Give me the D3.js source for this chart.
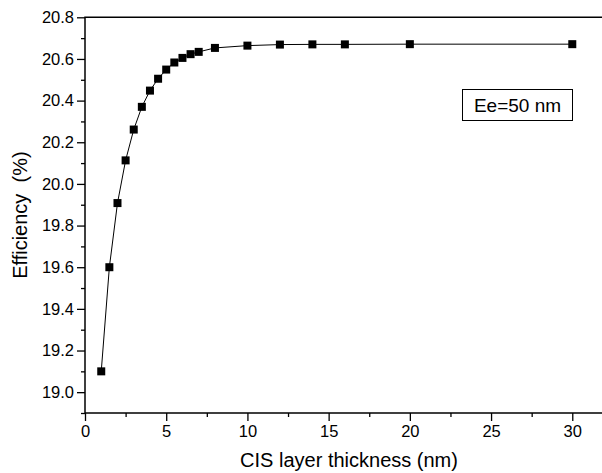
<!DOCTYPE html>
<html>
<head>
<meta charset="utf-8">
<script src="https://cdnjs.cloudflare.com/ajax/libs/d3/7.8.5/d3.min.js"></script>
<style>
	body { margin: 0; background: #fff; }
	svg { display: block; }
	text { font-family: Arial, "Liberation Sans", sans-serif; fill: #000; }
</style>
</head>
<body>
<script>
// data
var thickness = [1, 1.5, 2, 2.5, 3, 3.5, 4, 4.5, 5, 5.5, 6, 6.5, 7, 8, 10, 12, 14, 16, 20, 30];
var efficiency = [19.10, 19.60, 19.908, 20.113, 20.261, 20.370, 20.448, 20.505, 20.549, 20.583,
	20.605, 20.623, 20.634, 20.653, 20.664, 20.669, 20.670, 20.670, 20.671, 20.671];
var xTicks = [0, 5, 10, 15, 20, 25, 30];
var yTicks = [19.0, 19.2, 19.4, 19.6, 19.8, 20.0, 20.2, 20.4, 20.6, 20.8];
var xLabel = "CIS layer thickness (nm)";
var yLabel = "Efficiency  (%)";
var noteText = "Ee=50 nm";

var w = 602, h = 473;
var m_left = 85, m_top = 17.3, m_right = 602, m_bottom = 413;

var svg = d3.select("body").append("svg")
	.attr("width", w)
	.attr("height", h);

var x = d3.scaleLinear().domain([0, 31.83]).range([m_left, m_right]);
var y = d3.scaleLinear().domain([18.9, 20.8]).range([m_bottom, m_top]);

// minor ticks
var xMinor = d3.range(2.5, 31, 5);
var yMinor = d3.range(18.9, 20.8, 0.2).map(function(d) { return +d.toFixed(1); });

var xAxis = d3.axisBottom(x).tickValues(xTicks).tickSize(8).tickPadding(4).tickFormat(d3.format("d"));
var yAxis = d3.axisLeft(y).tickValues(yTicks).tickSize(8).tickPadding(3).tickFormat(d3.format(".1f"));

svg.append("g")
	.attr("transform", "translate(0," + m_bottom + ")")
	.call(d3.axisBottom(x).tickValues(xMinor).tickSize(4).tickFormat(""))
	.call(function(g) { g.select(".domain").remove(); });
svg.append("g")
	.attr("transform", "translate(" + m_left + ",0)")
	.call(d3.axisLeft(y).tickValues(yMinor).tickSize(4).tickFormat(""))
	.call(function(g) { g.select(".domain").remove(); });

var gx = svg.append("g")
	.attr("transform", "translate(0," + m_bottom + ")")
	.call(xAxis);
var gy = svg.append("g")
	.attr("transform", "translate(" + m_left + ",0)")
	.call(yAxis);

[gx, gy].forEach(function(g) {
	g.select(".domain").remove();
	g.attr("font-size", null).attr("font-family", null);
	g.selectAll("text").style("font-size", "16.5px");
});
svg.selectAll(".tick line").attr("stroke", "#000").attr("stroke-width", 1.3);

// frame lines: top, left, bottom
svg.append("path")
	.attr("d", "M" + m_right + " " + m_top + " L" + m_left + " " + m_top + " L" + m_left + " " + m_bottom + " L" + m_right + " " + m_bottom)
	.attr("fill", "none")
	.attr("stroke", "#000")
	.attr("stroke-width", 1.5);

// curve
var line = d3.line()
	.x(function(d, i) { return x(thickness[i]); })
	.y(function(d) { return y(d); });

svg.append("path")
	.datum(efficiency)
	.attr("d", line)
	.attr("fill", "none")
	.attr("stroke", "#000")
	.attr("stroke-width", 1);

var sz = 8;
svg.selectAll("rect.pt")
	.data(efficiency)
	.enter().append("rect")
	.attr("class", "pt")
	.attr("x", function(d, i) { return x(thickness[i]) - sz / 2; })
	.attr("y", function(d) { return y(d) - sz / 2; })
	.attr("width", sz)
	.attr("height", sz)
	.attr("fill", "#000");

// axis titles
svg.append("text")
	.attr("x", 349)
	.attr("y", 467)
	.attr("text-anchor", "middle")
	.style("font-size", "20px")
	.text(xLabel);

svg.append("text")
	.attr("transform", "translate(27," + ((m_top + m_bottom) / 2) + ") rotate(-90)")
	.attr("text-anchor", "middle")
	.style("font-size", "20px")
	.style("white-space", "pre")
	.text(yLabel);

// note box
svg.append("rect")
	.attr("x", 462.5)
	.attr("y", 89.5)
	.attr("width", 110)
	.attr("height", 31)
	.attr("fill", "#fff")
	.attr("stroke", "#000")
	.attr("stroke-width", 1);

svg.append("text")
	.attr("x", 517.5)
	.attr("y", 111.5)
	.attr("text-anchor", "middle")
	.style("font-size", "19px")
	.text(noteText);
</script>
</body>
</html>
